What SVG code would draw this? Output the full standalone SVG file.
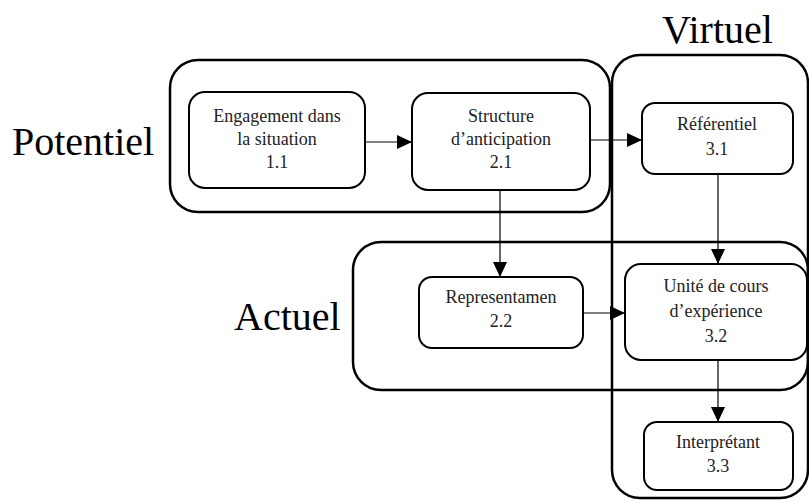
<svg xmlns="http://www.w3.org/2000/svg" width="809" height="502" viewBox="0 0 809 502">
<defs>
<style>
.cont{fill:none;stroke:#000;stroke-width:2.5}
.node rect{fill:#fff;stroke:#000;stroke-width:2}
.node text{font-size:18px;fill:#222;text-anchor:middle}
.big{font-size:40px;fill:#000}
.conn line{stroke:#000;stroke-width:1.2}
</style>
<marker id="ah" markerUnits="userSpaceOnUse" markerWidth="16" markerHeight="14" refX="15" refY="7" orient="auto">
<path d="M0,0 L15,7 L0,14 Z" fill="#000"/>
</marker>
</defs>
<rect fill="#fff" width="809" height="502"/>
<g id="containers">
<rect id="potentiel" class="cont" x="170" y="60" width="440" height="152" rx="28"/>
<rect id="virtuel" class="cont" x="612" y="55" width="196" height="443" rx="28"/>
<rect id="actuel" class="cont" x="353" y="242" width="455" height="148" rx="28"/>
</g>
<g font-family="'Liberation Serif', 'Times New Roman', 'DejaVu Serif', serif">
<text class="big" x="12" y="155">Potentiel</text>
<text class="big" x="662" y="43">Virtuel</text>
<text class="big" x="234" y="330">Actuel</text>
</g>
<g class="conn" id="connectors">
<line x1="365" y1="142" x2="412" y2="142" marker-end="url(#ah)"/>
<line x1="590" y1="140" x2="642" y2="140" marker-end="url(#ah)"/>
<line x1="500" y1="190" x2="500" y2="277" marker-end="url(#ah)"/>
<line x1="718" y1="174" x2="718" y2="264" marker-end="url(#ah)"/>
<line x1="583" y1="313" x2="625" y2="313" marker-end="url(#ah)"/>
<line x1="718" y1="360" x2="718" y2="422" marker-end="url(#ah)"/>
</g>
<g font-family="'Liberation Serif', 'Times New Roman', 'DejaVu Serif', serif">
<g class="node" id="n11">
<rect x="189" y="92" width="176" height="96" rx="16"/>
<text x="277" y="122">Engagement dans</text>
<text x="277" y="145">la situation</text>
<text x="277" y="168">1.1</text>
</g>
<g class="node" id="n21">
<rect x="412" y="93" width="178" height="97" rx="16"/>
<text x="501" y="122">Structure</text>
<text x="501" y="145">d’anticipation</text>
<text x="501" y="168">2.1</text>
</g>
<g class="node" id="n31">
<rect x="642" y="103" width="151" height="71" rx="13"/>
<text x="717" y="130">Référentiel</text>
<text x="717" y="155">3.1</text>
</g>
<g class="node" id="n22">
<rect x="419" y="277" width="164" height="71" rx="13"/>
<text x="501" y="303">Representamen</text>
<text x="501" y="327">2.2</text>
</g>
<g class="node" id="n32">
<rect x="625" y="264" width="182" height="96" rx="16"/>
<text x="716" y="292">Unité de cours</text>
<text x="716" y="317">d’expérience</text>
<text x="716" y="342">3.2</text>
</g>
<g class="node" id="n33">
<rect x="644" y="422" width="149" height="68" rx="13"/>
<text x="718" y="448">Interprétant</text>
<text x="718" y="472">3.3</text>
</g>
</g>
</svg>
